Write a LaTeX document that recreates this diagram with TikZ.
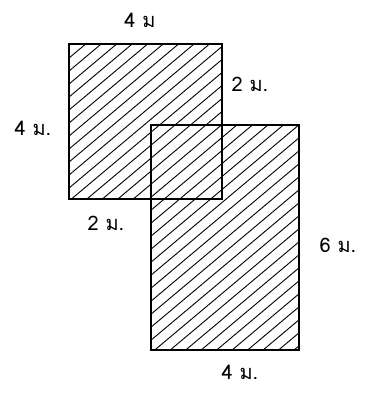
\documentclass[tikz,border=0pt]{standalone}
\usepackage{fontspec}
\newfontfamily\thaifont[Script=Thai]{Loma}
\begin{document}
\begin{tikzpicture}[x=1pt,y=-1pt,
  plot/.style={draw=black,line width=1.6pt,inner sep=0pt,anchor=north west},
  hatch/.style={line width=0.9pt,black},
  lbl/.style={font=\thaifont\fontsize{20}{20}\selectfont,inner sep=1pt}]
\useasboundingbox (0,0) rectangle (365,394);
\begin{scope}
\clip (68,43) rectangle (221,198) (150,124) rectangle (298,349);
\foreach \c in {90,103,...,620} \draw[hatch] (0,\c) -- (400,\c-336);
\end{scope}
\node[plot,minimum width=153pt,minimum height=155pt] (A) at (68,43) {};
\node[plot,minimum width=148pt,minimum height=225pt] (B) at (150,124) {};
\node[lbl] (ta) at (140,20) {4 ม};
\node[lbl] (ra) at (250,84) {2 ม.};
\node[lbl] (la) at (33,128) {4 ม.};
\node[lbl] (ba) at (106,223) {2 ม.};
\node[lbl] (rb) at (338,245) {6 ม.};
\node[lbl] (bb) at (240,372) {4 ม.};
\end{tikzpicture}
\end{document}
